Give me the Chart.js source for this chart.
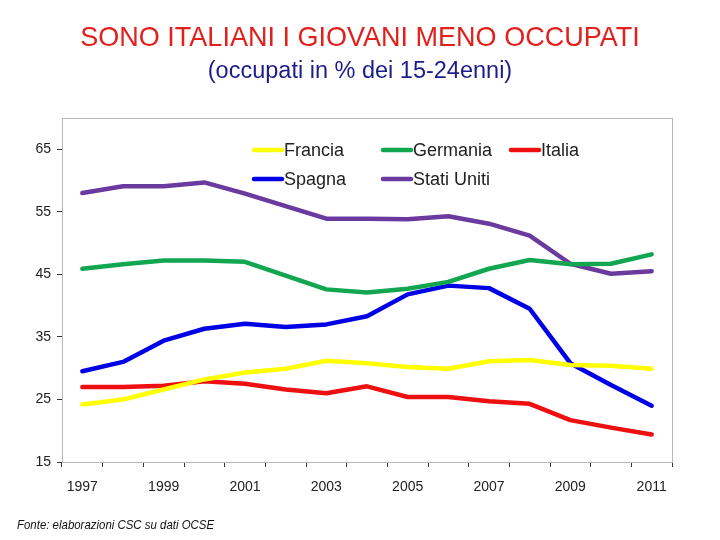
<!DOCTYPE html>
<html>
<head>
<meta charset="utf-8">
<script src="https://cdn.jsdelivr.net/npm/chart.js@4"></script>
<style>
  html, body { margin: 0; padding: 0; background: #fff; }
  #wrap { position: relative; width: 720px; height: 540px; overflow: hidden; }
  #title { position: absolute; left: 0; width: 720px; top: 21px; text-align: center;
           font-family: "Liberation Sans", Arial, sans-serif;
           font-size: 28px; color: #e2201c; white-space: nowrap;
           transform: scaleX(0.965); transform-origin: 360px 0; }
  #subtitle { position: absolute; left: 0; width: 720px; top: 57px; text-align: center;
           font-family: "Liberation Sans", Arial, sans-serif; font-size: 23.5px; color: #1c1c8a; }
  #source { position: absolute; left: 17px; top: 517px; font-style: italic;
           font-family: "Liberation Sans", Arial, sans-serif; white-space: nowrap;
           font-size: 13px; color: #111; transform: scaleX(0.88); transform-origin: 0 0; }
  #chartBox { position: absolute; left: 0; top: 0; width: 720px; height: 540px; }
</style>
</head>
<body>
<div id="wrap">
  <div id="chartBox"><canvas id="myChart" width="720" height="540"></canvas></div>
  <div id="title">SONO ITALIANI I GIOVANI MENO OCCUPATI</div>
  <div id="subtitle">(occupati in % dei 15-24enni)</div>
  <div id="source">Fonte: elaborazioni CSC su dati OCSE</div>
</div>
<script>
// years on the x axis
var years = ['1997','1998','1999','2000','2001','2002','2003','2004','2005','2006','2007','2008','2009','2010','2011']
// y axis ticks
var y_ticks = [15, 25, 35, 45, 55, 65]

// employment rate 15-24 (%)
var francia    = [24.2, 25.0, 26.6, 28.2, 29.3, 29.9, 31.2, 30.8, 30.2, 29.9, 31.1, 31.3, 30.5, 30.4, 29.9]
var germania   = [45.9, 46.6, 47.2, 47.2, 47.0, 44.8, 42.6, 42.1, 42.7, 43.8, 45.9, 47.3, 46.6, 46.7, 48.2]
var italia     = [27.0, 27.0, 27.2, 27.9, 27.5, 26.6, 26.0, 27.1, 25.4, 25.4, 24.7, 24.3, 21.7, 20.5, 19.4]
var spagna     = [29.5, 31.0, 34.4, 36.3, 37.1, 36.6, 37.0, 38.3, 41.8, 43.2, 42.8, 39.5, 30.8, 27.3, 24.0]
var stati_uniti = [58.0, 59.1, 59.1, 59.7, 57.9, 55.9, 53.9, 53.9, 53.8, 54.3, 53.1, 51.2, 46.7, 45.1, 45.5]

var series_names = ['Francia', 'Germania', 'Italia', 'Spagna', 'Stati Uniti']
var series_data = [francia, germania, italia, spagna, stati_uniti]
var series_colors = ['#ffff00', '#12a650', '#ee1010', '#0000e6', '#6b3a9e']

var datasets = []
for (let i = 0; i < series_names.length; i++) {
    datasets.push({
        label: series_names[i],
        data: series_data[i],
        borderColor: series_colors[i],
        backgroundColor: series_colors[i],
        borderWidth: 4.5,
        pointRadius: 0,
        tension: 0,
        borderCapStyle: 'round',
        borderJoinStyle: 'round'
    })
}

// grey frame round the plot area
const frame = {
    id: 'frame',
    beforeDatasetsDraw(chart) {
        const a = chart.chartArea, c = chart.ctx
        c.save()
        c.strokeStyle = '#b8b8b8'
        c.lineWidth = 1
        c.strokeRect(a.left + 0.5, a.top + 0.5, a.right - a.left, a.bottom - a.top)
        c.restore()
    }
}

// legend drawn inside the plot, two rows like the original
const innerLegend = {
    id: 'innerLegend',
    afterDatasetsDraw(chart) {
        const c = chart.ctx, a = chart.chartArea
        const cols = [192, 321, 449]   // offsets from chart left
        const rows = [32, 61]          // offsets from chart top
        c.save()
        c.font = '18px "Liberation Sans", Arial, sans-serif'
        c.textBaseline = 'middle'
        chart.data.datasets.forEach(function (ds, i) {
            const x = a.left + cols[i % 3]
            const y = a.top + rows[Math.floor(i / 3)]
            c.strokeStyle = ds.borderColor
            c.lineWidth = 4.5
            c.lineCap = 'round'
            c.beginPath()
            c.moveTo(x, y)
            c.lineTo(x + 28, y)
            c.stroke()
            c.fillStyle = '#222'
            c.fillText(ds.label, x + 30, y + 1)
        })
        c.restore()
    }
}

const ctx = document.getElementById('myChart');
new Chart(ctx, {
    type: 'line',
    data: { labels: years, datasets: datasets },
    plugins: [frame, innerLegend],
    options: {
        responsive: false,
        animation: false,
        layout: { padding: { top: 118, right: 48, bottom: 36, left: 0 } },
        plugins: { legend: { display: false }, tooltip: { enabled: false } },
        scales: {
            x: {
                offset: true,
                afterFit: function (s) { s.height = 42 },
                grid: { offset: true, drawOnChartArea: false, tickLength: 5, color: '#333', tickWidth: 1 },
                border: { color: '#b8b8b8' },
                ticks: {
                    autoSkip: false, maxRotation: 0, padding: 12, color: '#222',
                    font: { family: '"Liberation Sans", Arial, sans-serif', size: 14 },
                    callback: function (v, i) { return i % 2 === 0 ? years[i] : '' }
                }
            },
            y: {
                min: 15, max: 70,
                afterFit: function (s) { s.width = 62 },
                afterBuildTicks: function (s) { s.ticks = y_ticks.map(v => ({ value: v })) },
                grid: { drawOnChartArea: false, tickLength: 5, color: '#333' },
                border: { color: '#b8b8b8' },
                ticks: {
                    padding: 6, color: '#222',
                    font: { family: '"Liberation Sans", Arial, sans-serif', size: 14 }
                }
            }
        }
    }
});
</script>
</body>
</html>
